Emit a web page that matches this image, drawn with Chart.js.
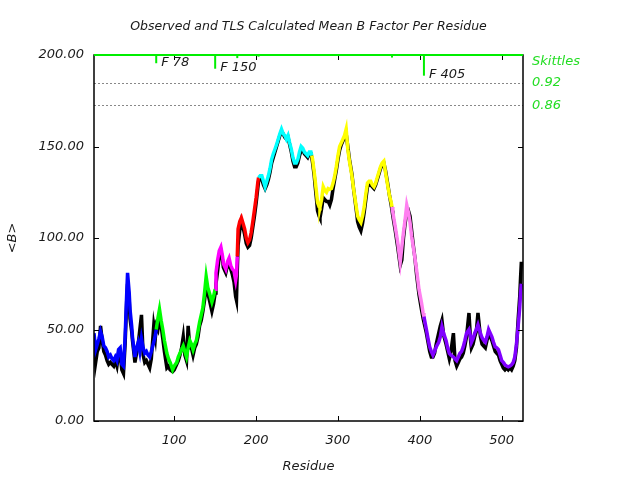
<!DOCTYPE html>
<html>
<head>
<meta charset="utf-8">
<script src="https://cdn.jsdelivr.net/npm/chart.js@4"></script>
<style>
html,body{margin:0;padding:0;background:#fff;}
#wrap{width:640px;height:480px;}
</style>
</head>
<body>
<div id="wrap"><canvas id="c" width="640" height="480"></canvas></div>
<script>
// ---- data ----
const residues = [
 2,4,6,8,10,12,14,16,18,20,22,24,26,28,30,32,34,36,38,40,42,43,45,46,48,49,51,52,54,56,58,60,62,64,66,68,70,72,75,77,
 78,80,82,84,86,88,91,93,95,98,100,103,105,107,109,111,113,115,117,119,121,123,125,127,129,131,133,135,137,139,141,143,146,148,150,
 151,153,155,157,159,160,162,163,165,167,169,171,173,175,176,
 177,178,180,182,184,186,188,190,192,194,196,198,200,202,
 203,205,207,209,211,213,215,217,219,221,223,225,227,229,231,233,235,237,239,241,243,245,247,249,251,253,255,257,259,261,263,265,267,
 268,269,271,272,274,275,277,278,280,282,284,286,288,290,292,294,296,298,300,302,304,306,308,310,312,314,317,319,321,323,324,326,328,330,332,334,336,338,340,342,344,346,348,350,352,354,356,358,361,363,365,
 366,367,370,373,376,378,380,382,384,386,388,390,392,394,396,399,402,404,
 405,408,410,412,414,416,418,420,423,425,427,429,432,434,436,438,441,443,445,447,449,451,453,455,457,460,462,463,465,467,469,471,474,476,478,480,482,484,486,488,490,492,494,496,498,500,502,504,506,508,510,512,514,516,518,520,522,523,524
];
const tlsB = [
 48,39,42,45,49,46,41,40,38,35,36,34,33,35,33,39,40,31,30,46,70,81,70,61,52,46,38,35,40,43,38,45,40,37,38,36,35,38,43,47,
 50,56,61,55,50,44,37,34,32,28,30,32,35,37,39,41,38,35,40,44,42,39,42,44,49,54,58,62,70,79,73,70,65,68,72,
 81,88,93,95,90,86,84,83,87,89,85,83,82,77,80,
 90,105,109,111,108,105,100,97.5,99,103,109,115.5,122,130,
 133,134,134,131,128,131,134,138,143,146,148.5,151,154,157,159.5,157,156,154,156,152,148.5,144,141,141,143,147,150,149,147,146,145,147,147,
 145,143,136,132,124,119.5,117,116.7,121,128,126,125,127,126.6,127,130,134,139,145,150,152,154,156,159.5,148.5,142,134,127,121,115,112,110,108.5,112,117,124,130,131,131,129,128,130,133,136,139,141,142,136,128,123,119.5,
 117,114,106,97.5,87,95,103,110,118,114,108.5,101,95,89,82.7,71.8,64.7,59,
 57,50,45,40.5,38,36,38,40.5,43,46,51.5,48,44,40,37,36,35,34,33,35,37,38,40.5,44,48,50,46,43,45,48,50,52.6,48,45.5,44,43,46,50,48,46,43,40.5,40,39,36,33,32,30.7,30,29.6,30,30.7,32,35,42,51.5,62,70,75
];
const obsB = [
 44,32,38,40,52,44,38,36,33,31,32,31,30,33,30,37,36,28,26,42,66,75,66,56,49,44,36,32,37,42,50,58,36,32,33,31,29,34,52,46,
 52,50,57,52,45,38,29,30,28,27,28,31,33,36,40,46,36,33,52,40,40,36,40,42,46,52,55,60,66,74,70,66,60,64,70,
 75,82,90,93,88,84,82,81,85,86,83,80,76,68,66,
 82,96,104,109,106,102,97,95,96,100,106,112,119,127,
 131,133,132,129,127,129,132,136,141,144,147,150,153,156,158,157,155,154,155,151,147,142,139,139,141,145,148,148,146,145,144,146,146,
 144,141,134,129,120,115,112,111,116,122,121,120,120,118,121,127,132,137,143,148,151,153,155,157,150,143,135,127,120,113,109,106,104,108,114,121,128,129,129,128,127,129,132,135,138,140,141,137,129,123,118,
 115,112,104,95,85,88,100,108,114,115,112,104,96,89,80,69,61,56,
 54,48,43,38,35,35,37,42,48,52,55,47,42,38,34,38,48,33,30,32,34,35,37,41,46,59,44,40,42,46,49,59,46,42,41,40,44,48,46,44,41,38,37,36,33,31,29,28,29,28,29,28,30,33,40,55,68,78,87
];
// segment boundaries (residue where each colour group starts) and colours
const groupStarts = [2, 78, 150, 177, 203, 268, 366, 405];
const groupColors = ['#0000ff','#00ff00','#ff00ff','#ff0000','#00ffff','#ffff00','#ff80f0','#8000ff'];
// feature marks on top
const featureRes = [78, 150, 177, 203, 268, 366, 405];
const featureLow = [195.5, 192.5, 198.3, 199.1, 199.6, 198.6, 188.7];
const featureLabel = ['F 78', 'F 150', '', '', '', '', 'F 405'];
// skittles thresholds
const skittleVals = [184.7, 172.6];
const skittleLabels = ['0.92', '0.86'];
const xTicks = [100, 200, 300, 400, 500];
const yTicks = [0, 50, 100, 150, 200];

function colorFor(x){
  let c = groupColors[0];
  for (let i = 0; i < groupStarts.length; i++) if (x >= groupStarts[i]) c = groupColors[i];
  return c;
}

const FONT = '"DejaVu Sans", sans-serif';
const TXT = '#1a1a1a';

const overlay = {
  id: 'overlay',
  beforeDatasetsDraw(chart){
    const {ctx, chartArea: a, scales:{x, y}} = chart;
    ctx.save();
    ctx.strokeStyle = '#888';
    ctx.lineWidth = 1;
    ctx.setLineDash([2,2]);
    skittleVals.forEach(v => {
      const py = Math.round(y.getPixelForValue(v)) + 0.5;
      ctx.beginPath(); ctx.moveTo(a.left, py); ctx.lineTo(a.right, py); ctx.stroke();
    });
    ctx.restore();
  },
  afterDatasetsDraw(chart){
    const {ctx, chartArea: a, scales:{x, y}} = chart;
    ctx.save();
    ctx.strokeStyle = '#000';
    ctx.lineWidth = 1.5;
    ctx.strokeRect(a.left, a.top, a.right - a.left, a.bottom - a.top);
    ctx.lineWidth = 1;
    xTicks.forEach(t => {
      const px = Math.round(x.getPixelForValue(t)) + 0.5;
      ctx.beginPath(); ctx.moveTo(px, a.bottom); ctx.lineTo(px, a.bottom - 5); ctx.stroke();
      ctx.beginPath(); ctx.moveTo(px, a.top); ctx.lineTo(px, a.top + 5); ctx.stroke();
    });
    yTicks.forEach(t => {
      const py = Math.round(y.getPixelForValue(t)) + 0.5;
      ctx.beginPath(); ctx.moveTo(a.left, py); ctx.lineTo(a.left + 5, py); ctx.stroke();
      ctx.beginPath(); ctx.moveTo(a.right, py); ctx.lineTo(a.right - 5, py); ctx.stroke();
    });
    ctx.strokeStyle = '#00ee00';
    ctx.lineWidth = 2;
    const ty = y.getPixelForValue(200);
    ctx.beginPath(); ctx.moveTo(a.left, ty); ctx.lineTo(a.right, ty); ctx.stroke();
    ctx.font = 'italic 13px ' + FONT;
    ctx.textAlign = 'left';
    ctx.textBaseline = 'middle';
    featureRes.forEach((r, i) => {
      const px = x.getPixelForValue(r);
      const pyLow = y.getPixelForValue(featureLow[i]);
      ctx.strokeStyle = '#00ee00';
      ctx.beginPath(); ctx.moveTo(px, ty); ctx.lineTo(px, pyLow); ctx.stroke();
      if (featureLabel[i]) {
        ctx.fillStyle = TXT;
        ctx.fillText(featureLabel[i], px + 5, pyLow - 1);
      }
    });
    ctx.fillStyle = '#22dd22';
    ctx.font = 'italic 13px ' + FONT;
    ctx.fillText('Skittles', a.right + 9, y.getPixelForValue(196.5));
    skittleVals.forEach((v, i) => {
      ctx.fillText(skittleLabels[i], a.right + 9, y.getPixelForValue(v));
    });
    ctx.fillStyle = TXT;
    ctx.textAlign = 'center';
    ctx.font = 'italic 12.5px ' + FONT;
    const cx = (a.left + a.right) / 2;
    ctx.fillText('Observed and TLS Calculated Mean B Factor Per Residue', cx, 27);
    ctx.font = 'italic 13px ' + FONT;
    ctx.fillText('Residue', cx, 467);
    ctx.translate(13, (a.top + a.bottom) / 2);
    ctx.rotate(-Math.PI / 2);
    ctx.fillText('<B>', 0, 0);
    ctx.restore();
  }
};

new Chart(document.getElementById('c'), {
  type: 'line',
  data: {
    datasets: [
      {
        label: 'TLS',
        data: residues.map((r, i) => ({x: r, y: tlsB[i]})),
        borderWidth: 3.5,
        pointRadius: 0,
        tension: 0,
        order: 0,
        segment: { borderColor: c => colorFor(c.p0.parsed.x) },
        borderColor: '#0000ff'
      },
      {
        label: 'Observed',
        data: residues.map((r, i) => ({x: r, y: obsB[i]})),
        borderWidth: 3.5,
        pointRadius: 0,
        tension: 0,
        order: 1,
        borderColor: '#000000'
      }
    ]
  },
  options: {
    responsive: false,
    animation: false,
    events: [],
    layout: { padding: { left: 0, right: 117, top: 55, bottom: 0 } },
    plugins: { legend: { display: false }, tooltip: { enabled: false }, title: { display: false } },
    scales: {
      x: {
        type: 'linear', min: 2, max: 526,
        grid: { display: false, drawTicks: false }, border: { display: false },
        afterBuildTicks: s => { s.ticks = xTicks.map(v => ({value: v})); },
        afterFit: s => { s.height = 59; },
        ticks: { padding: 12, color: TXT, font: { family: FONT, size: 13, style: 'italic' }, maxRotation: 0 }
      },
      y: {
        type: 'linear', min: 0, max: 200,
        grid: { display: false, drawTicks: false }, border: { display: false },
        afterBuildTicks: s => { s.ticks = yTicks.map(v => ({value: v})); },
        afterFit: s => { s.width = 94; },
        ticks: { padding: 10, color: TXT, font: { family: FONT, size: 13, style: 'italic' }, callback: v => Number(v).toFixed(2) }
      }
    }
  },
  plugins: [overlay]
});
</script>
</body>
</html>
